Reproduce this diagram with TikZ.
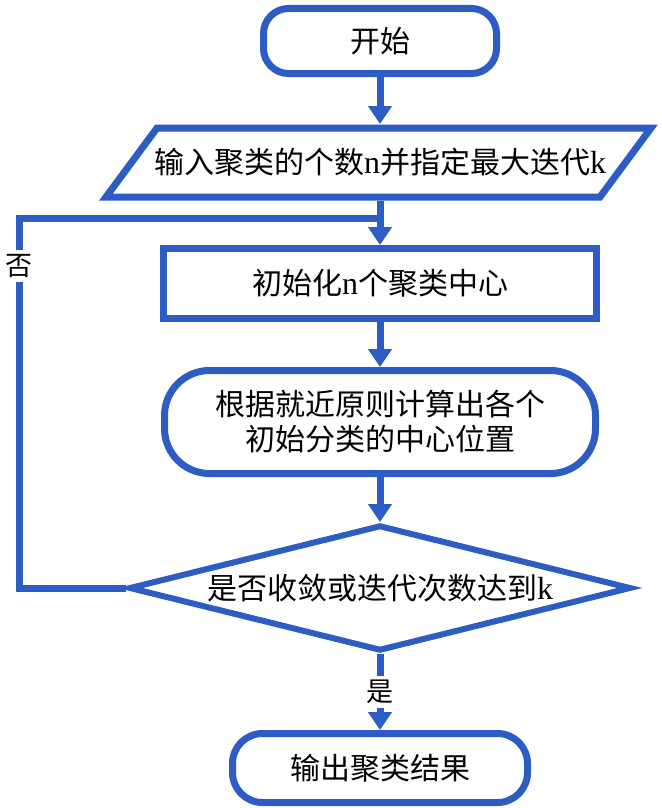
\documentclass[tikz,border=0pt]{standalone}
\usepackage{fontspec}
\setmainfont{Liberation Serif}
\newfontfamily\cjk{Noto Sans CJK SC}
\usetikzlibrary{arrows.meta,shapes.geometric}
\definecolor{fblue}{RGB}{45,92,196}
\newcommand{\lat}[1]{{\fontsize{32}{35}\selectfont #1}}
\begin{document}
\begin{tikzpicture}[x=1pt,y=-1pt,
  txt/.style={align=center, font=\fontsize{30}{35}\selectfont, inner sep=0pt},
  box/.style={txt, draw=fblue, line width=7pt, fill=white},
  conn/.style={draw=fblue, line width=7pt},
  arr/.style={conn, -{Triangle[width=23pt,length=18pt]}},
  lbl/.style={fill=white, font=\fontsize{27}{30}\selectfont\cjk, inner sep=4pt}]
\useasboundingbox (0,0) rectangle (661,808);
\fill[white] (0,0) rectangle (661,808);

% start
\node[box, rounded corners=25pt, minimum width=233pt, minimum height=65pt] (start) at (380,41) {\cjk 开始};

% input parallelogram
\coordinate (p1) at (157,128);
\coordinate (p2) at (651,128);
\coordinate (p3) at (600,197);
\coordinate (p4) at (106,197);
\draw[conn, line join=miter, fill=white] (p1) -- (p2) -- (p3) -- (p4) -- cycle;
\node[txt, minimum width=450pt, minimum height=77pt, outer sep=0pt] (input) at (380,162.5) {{\cjk 输入聚类的个数}\lat{n}{\cjk 并指定最大迭代}\lat{k}};

% init
\node[box, minimum width=433pt, minimum height=70pt] (init) at (380,283.5) {{\cjk 初始化}\lat{n}{\cjk 个聚类中心}};

% calc
\node[box, rounded corners=45pt, minimum width=431pt, minimum height=103pt] (calc) at (380,422) {{\cjk 根据就近原则计算出各个}\\{\cjk 初始分类的中心位置}};

% decision
\node[txt, draw=fblue, line width=6pt, fill=white, shape=diamond, aspect=4, minimum width=502pt, minimum height=126pt] (dec) at (380,588) {{\cjk 是否收敛或迭代次数达到}\lat{k}};

% end
\node[box, rounded corners=30pt, minimum width=295pt, minimum height=69pt] (end) at (380,768) {\cjk 输出聚类结果};

% loop back
\coordinate (lb) at (19,588);
\coordinate (lt) at (19,218);
\coordinate (lj) at (383.5,218);
\draw[conn, line join=miter] (dec.west) -- (lb) -- (lt) -- (lj);
\node[lbl] (no) at (19,266) {否};

% arrows
\draw[arr] (start) -- (input);
\draw[arr] (input) -- (init);
\draw[arr] (init) -- (calc);
\draw[arr] (calc) -- (dec);
\draw[arr] (dec) -- node[lbl] (yes) {是} (end);
\end{tikzpicture}
\end{document}
